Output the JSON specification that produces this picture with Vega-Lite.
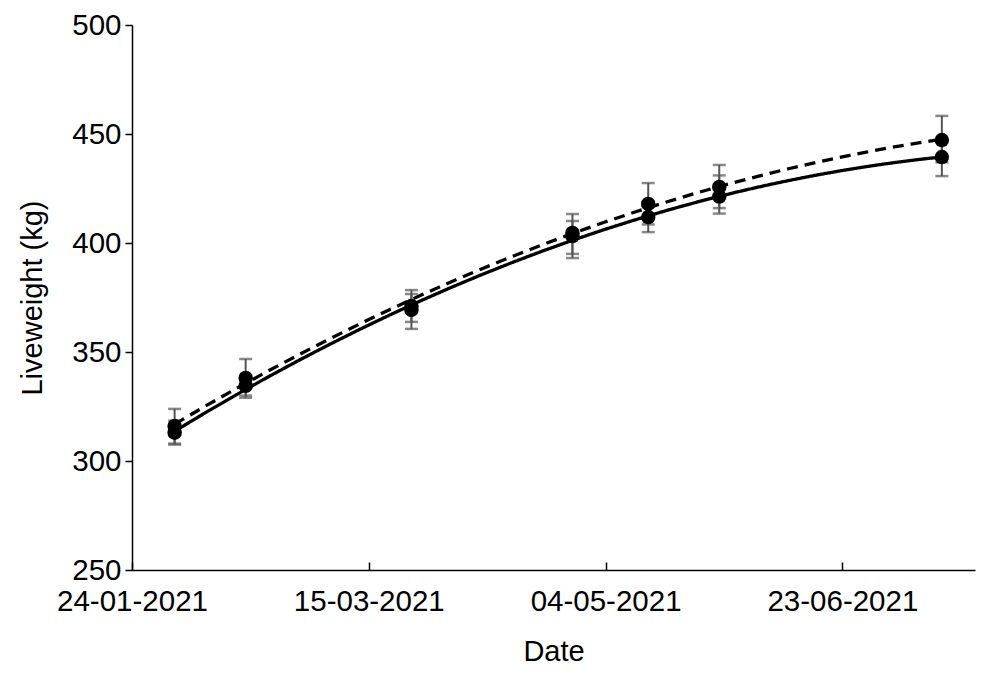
{
  "$schema": "https://vega.github.io/schema/vega-lite/v6.json",
  "autosize": "none",
  "width": 843,
  "height": 545,
  "padding": {"left": 132, "top": 25, "right": 17, "bottom": 105},
  "background": "white",
  "config": {
    "view": {"stroke": null},
    "font": "Liberation Sans",
    "axis": {
      "grid": false,
      "domainColor": "black",
      "domainWidth": 1.5,
      "tickColor": "black",
      "tickWidth": 1.5,
      "labelColor": "black",
      "labelFont": "Liberation Sans",
      "labelFontSize": 29.5,
      "titleFont": "Liberation Sans",
      "titleFontSize": 29,
      "titleFontWeight": "normal",
      "titleColor": "black"
    }
  },
  "data": {
    "values": [
      {"date": "2021-02-02", "series": "A", "lw": 313, "lo": 307.5, "hi": 318.5},
      {"date": "2021-02-17", "series": "A", "lw": 334.5, "lo": 329, "hi": 339},
      {"date": "2021-03-24", "series": "A", "lw": 369.3, "lo": 360.6, "hi": 376.6},
      {"date": "2021-04-27", "series": "A", "lw": 403.2, "lo": 393.1, "hi": 410.1},
      {"date": "2021-05-13", "series": "A", "lw": 411.9, "lo": 405, "hi": 419},
      {"date": "2021-05-28", "series": "A", "lw": 421.3, "lo": 413.5, "hi": 431},
      {"date": "2021-07-14", "series": "A", "lw": 439.4, "lo": 430.7, "hi": 447.5},
      {"date": "2021-02-02", "series": "B", "lw": 316, "lo": 308, "hi": 323.9},
      {"date": "2021-02-17", "series": "B", "lw": 338.1, "lo": 330, "hi": 346.8},
      {"date": "2021-03-24", "series": "B", "lw": 371.1, "lo": 363.8, "hi": 378.4},
      {"date": "2021-04-27", "series": "B", "lw": 404.6, "lo": 395, "hi": 413.3},
      {"date": "2021-05-13", "series": "B", "lw": 417.9, "lo": 408.5, "hi": 427.5},
      {"date": "2021-05-28", "series": "B", "lw": 425.7, "lo": 416, "hi": 435.8},
      {"date": "2021-07-14", "series": "B", "lw": 447.2, "lo": 437, "hi": 458.3}
    ]
  },
  "encoding": {
    "x": {
      "field": "date",
      "type": "temporal",
      "scale": {
        "type": "utc",
        "domain": [
          {"year": 2021, "month": 1, "date": 24, "utc": true},
          {"year": 2021, "month": 7, "date": 21, "utc": true}
        ]
      },
      "axis": {
        "title": "Date",
        "format": "%d-%m-%Y",
        "values": [
          {"year": 2021, "month": 1, "date": 24, "utc": true},
          {"year": 2021, "month": 3, "date": 15, "utc": true},
          {"year": 2021, "month": 5, "date": 4, "utc": true},
          {"year": 2021, "month": 6, "date": 23, "utc": true}
        ],
        "tickSize": -8,
        "labelPadding": 25,
        "titlePadding": 22,
        "labelFlush": false,
        "labelOverlap": false
      }
    }
  },
  "layer": [
    {
      "mark": {"type": "rule", "color": "#555555", "strokeWidth": 2},
      "encoding": {
        "y": {"field": "lo", "type": "quantitative", "scale": {"domain": [250, 500], "zero": false}},
        "y2": {"field": "hi"}
      }
    },
    {
      "mark": {"type": "tick", "color": "#555555", "size": 13, "thickness": 2.5, "orient": "horizontal"},
      "encoding": {"y": {"field": "lo", "type": "quantitative", "scale": {"domain": [250, 500], "zero": false}}}
    },
    {
      "mark": {"type": "tick", "color": "#555555", "size": 13, "thickness": 2.5, "orient": "horizontal"},
      "encoding": {"y": {"field": "hi", "type": "quantitative", "scale": {"domain": [250, 500], "zero": false}}}
    },
    {
      "transform": [
        {"regression": "lw", "on": "date", "groupby": ["series"], "method": "poly", "order": 2}
      ],
      "mark": {"type": "line", "color": "black", "strokeWidth": 3.3},
      "encoding": {
        "y": {"field": "lw", "type": "quantitative", "scale": {"domain": [250, 500], "zero": false}},
        "strokeDash": {
          "field": "series",
          "type": "nominal",
          "scale": {"domain": ["A", "B"], "range": [[1, 0], [11, 7]]},
          "legend": null
        }
      }
    },
    {
      "mark": {"type": "point", "filled": true, "color": "black", "opacity": 1, "size": 210},
      "encoding": {
        "y": {
          "field": "lw",
          "type": "quantitative",
          "scale": {"domain": [250, 500], "zero": false},
          "axis": {
            "title": "Liveweight (kg)",
            "values": [250, 300, 350, 400, 450, 500],
            "tickSize": 7,
            "labelPadding": 4,
            "titlePadding": 24
          }
        }
      }
    }
  ]
}
